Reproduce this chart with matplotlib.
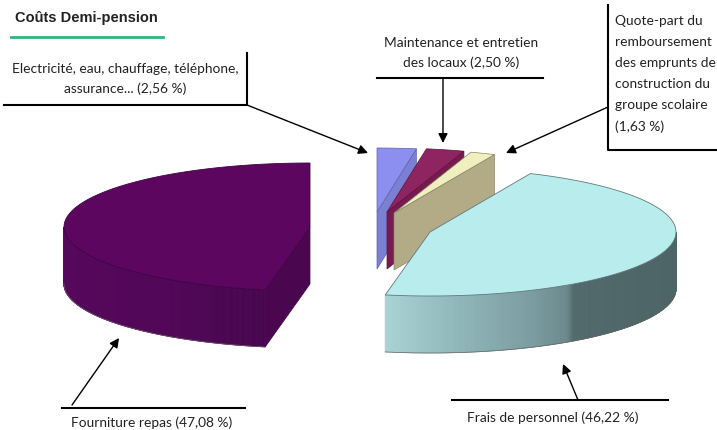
import numpy as np
import matplotlib
matplotlib.use("Agg")
import matplotlib.pyplot as plt
from matplotlib.patches import Polygon
from matplotlib.colors import LinearSegmentedColormap

# parts of the pie, counter clockwise starting from the top
names = ["Fourniture repas", "Frais de personnel", "Quote-part", "Maintenance", "Electricite"]
values = [47.08, 46.22, 1.63, 2.50, 2.56]

top_colors = ["#5c0660", "#b9eced", "#f0efc0", "#8e2460", "#8c8ff0"]
side_colors = ["#4a0750", "#b3ab85", "#b3ab85", "#761a50", "#7b80d2"]
edge_colors = ["#3e0544", "#5f7a7c", "#8a8566", "#5e1040", "#5f62aa"]

# where each slice's tip sits on the page
tips = {"Fourniture repas": (310, 227), "Frais de personnel": (430, 232),
        "Quote-part": (394, 213), "Maintenance": (387, 212), "Electricite": (377, 212)}

a, b, depth = 246, 64, 57

angles = 90 + np.cumsum([0] + values) / sum(values) * 360


def rim(tip, t1, t2, n=200):
    t = np.radians(np.linspace(t1, t2, n))
    return np.column_stack([tip[0] + a * np.cos(t), tip[1] - b * np.sin(t)])


def draw_rim(ax, tip, t1, t2, cmap, xmin, xmax):
    # front of the slice, cut in thin strips for the shading
    pts = rim(tip, t1, t2, 300)
    for p, q in zip(pts[:-1], pts[1:]):
        c = cmap((p[0] - xmin) / (xmax - xmin))
        ax.add_patch(Polygon([p, q, q + [0, depth], p + [0, depth]], facecolor=c, edgecolor=c, lw=0.6))
    ax.plot(pts[:, 0], pts[:, 1] + depth, color="#666666", lw=0.5)


fig = plt.figure(figsize=(7.17, 4.30), dpi=100)
ax = fig.add_axes([0, 0, 1, 1])
ax.set_xlim(0, 717)
ax.set_ylim(430, 0)
ax.axis("off")

purple_shade = LinearSegmentedColormap.from_list("p", ["#56085c", "#520758", "#470650"])
teal_shade = LinearSegmentedColormap.from_list(
    "t", [(0, "#a8d2d4"), (0.25, "#8fb6b9"), (0.5, "#7b9ca0"), (0.62, "#6b8a8d"), (0.65, "#52696c"), (1, "#4d6567")])

# small slices go first, the big light one sits over them
for i in [4, 3, 2]:
    tip = np.array(tips[names[i]], dtype=float)
    t1, t2 = angles[i], angles[i + 1]
    r = rim(tip, t1, t2)
    # visible cut face, tip to the first rim point
    ax.add_patch(Polygon([tip, r[0], r[0] + [0, depth], tip + [0, depth]],
                         facecolor=side_colors[i], edgecolor=edge_colors[i], lw=0.5))
    ax.add_patch(Polygon(np.vstack([tip, r]), facecolor=top_colors[i], edgecolor=edge_colors[i], lw=0.5))

# fourniture repas
tip = np.array(tips[names[0]], dtype=float)
r = rim(tip, angles[0], angles[1])
ax.add_patch(Polygon([tip, r[-1], r[-1] + [0, depth], tip + [0, depth]],
                     facecolor=side_colors[0], edgecolor=edge_colors[0], lw=0.5))
draw_rim(ax, tip, 180, angles[1], purple_shade, tip[0] - a, tip[0] - 45)
ax.add_patch(Polygon(np.vstack([tip, r]), facecolor=top_colors[0], edgecolor=edge_colors[0], lw=0.6))

# frais de personnel
tip = np.array(tips[names[1]], dtype=float)
r = rim(tip, angles[1], angles[2])
draw_rim(ax, tip, angles[1], 360, teal_shade, tip[0] - 44, tip[0] + a)
ax.add_patch(Polygon(np.vstack([tip, r]), facecolor=top_colors[1], edgecolor=edge_colors[1], lw=0.6))

# labels
label_font = ["Lato", "DejaVu Sans"]
fs = 9.95
ax.text(15, 18, "Coûts Demi-pension", family="Liberation Sans", fontweight="bold", fontsize=10.5,
        color="#222222", va="center")
ax.plot([11, 163], [37, 37], color="#2fb57c", lw=2)

ax.text(125, 79, "Electricité, eau, chauffage, téléphone,\nassurance... (2,56 %)", family=label_font,
        fontsize=fs, ha="center", va="center", linespacing=1.7, color="#222222")
ax.plot([4, 247, 247], [105, 105, 53], color="black", lw=1.5)

ax.text(461, 53, "Maintenance et entretien\ndes locaux (2,50 %)", family=label_font,
        fontsize=fs, ha="center", va="center", linespacing=1.8, color="#222222")
ax.plot([377, 543], [78, 78], color="black", lw=1.5)

ax.text(615, 74, "Quote-part du\nremboursement\ndes emprunts de\nconstruction du\ngroupe scolaire\n(1,63 %)",
        family=label_font, fontsize=fs, ha="left", va="center", linespacing=1.9, color="#222222")
ax.plot([608, 608, 717], [5, 150, 150], color="black", lw=1.5)

ax.text(152, 423, "Fourniture repas (47,08 %)", family=label_font, fontsize=fs, ha="center", va="center",
        color="#222222")
ax.plot([62, 245], [408, 408], color="black", lw=1.5)

ax.text(553, 418, "Frais de personnel (46,22 %)", family=label_font, fontsize=fs, ha="center", va="center",
        color="#222222")
ax.plot([452, 668], [400, 400], color="black", lw=1.5)

# arrows
arrows = [((247, 105), (368, 153)), ((443, 78), (443, 143)), ((608, 107), (506, 153)),
          ((72, 405), (119, 338)), ((578, 400), (563, 364))]
for start, end in arrows:
    ax.annotate("", xy=end, xytext=start,
                arrowprops=dict(arrowstyle="-|>", color="black", lw=1.0, mutation_scale=14,
                                shrinkA=0, shrinkB=0))

fig.savefig("out.png", dpi=100)
